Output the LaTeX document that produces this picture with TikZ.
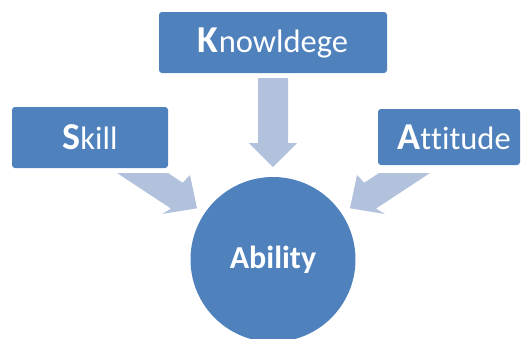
\documentclass[tikz,border=0pt]{standalone}
\usepackage{fontspec}
\setmainfont{Carlito}[Ligatures=NoCommon]
\definecolor{boxblue}{HTML}{4F81BD}
\definecolor{arrblue}{HTML}{B2C2DD}
\begin{document}
\begin{tikzpicture}[x=1pt,y=-1pt,
  box/.style={fill=boxblue, rounded corners=3pt, text=white, inner sep=0pt},
  blockarrow/.style={fill=arrblue, draw=none}]
\useasboundingbox (0,0) rectangle (523,338);
% block arrows
\fill[blockarrow] (258,78) -- (288,78) -- (288,143) -- (297,143) -- (273,167) -- (249,143) -- (258,143) -- cycle;
\fill[blockarrow] (117,173) -- (168,173) -- (182.7,182.7) -- (190,175) -- (197,208.3) -- (162,214) -- (171,208.6) -- cycle;
\fill[blockarrow] (430,173) -- (379,173) -- (364.3,182.7) -- (357,175) -- (350,208.3) -- (385,214) -- (376,208.6) -- cycle;
% boxes
\node[box, minimum width=228pt, minimum height=61pt] (know) at (273,42.5)
  {{\fontsize{38}{41}\selectfont\bfseries K}{\fontsize{32.5}{35}\selectfont nowldege}};
\node[box, minimum width=156pt, minimum height=61pt] (skill) at (90,137.5)
  {{\fontsize{38}{41}\selectfont\bfseries S}{\fontsize{32.5}{35}\selectfont kill}};
\node[box, minimum width=142pt, minimum height=56pt] (att) at (449,137)
  {\hspace*{10pt}{\fontsize{38}{41}\selectfont\bfseries A}{\fontsize{32.5}{35}\selectfont t\kern0pt t\kern0pt itude}};
% circle
\node[circle, fill=boxblue, minimum size=165pt, inner sep=0pt, text=white,
  font=\fontsize{32}{35}\selectfont\bfseries] (ab) at (273,259.5) {Ability};
\end{tikzpicture}
\end{document}
